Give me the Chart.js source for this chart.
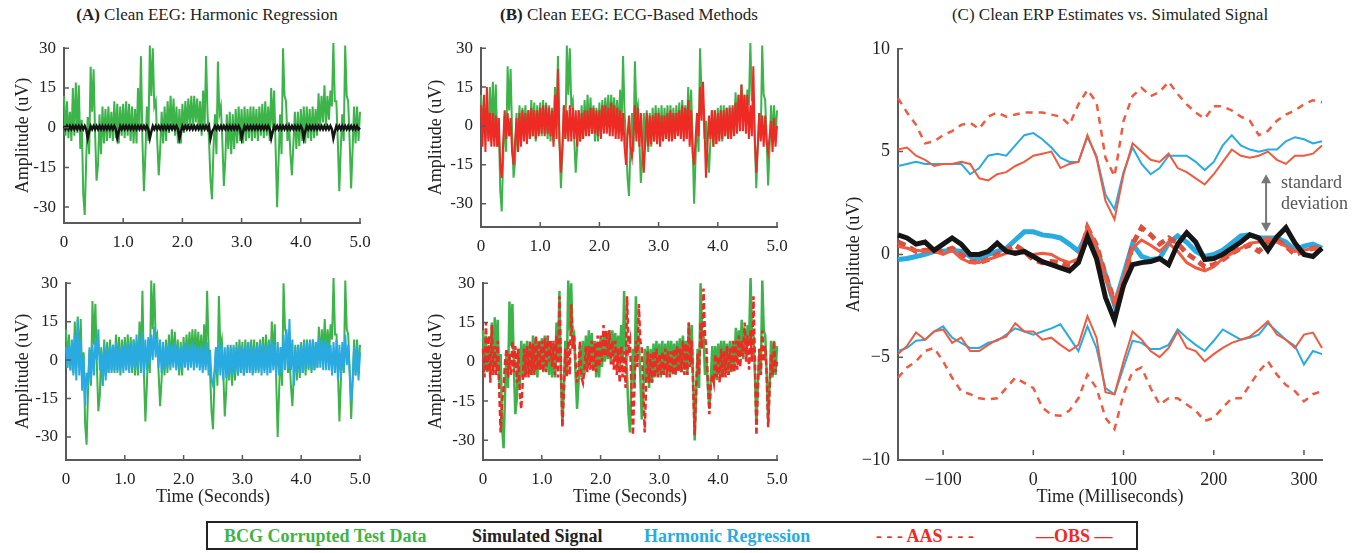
<!DOCTYPE html>
<html>
<head>
<meta charset="utf-8">
<script src="https://cdn.jsdelivr.net/npm/chart.js@4.4.1/dist/chart.umd.min.js"></script>
<style>
  body { margin: 0; background: #fff; width: 1367px; height: 553px; overflow: hidden; position: relative; font-family: "Liberation Serif", "Times New Roman", Times, "DejaVu Serif", serif; }
  .panel { position: absolute; }
  .title { position: absolute; font-size: 17px; color: #222; white-space: nowrap; transform: translateX(-50%); }
  .note { position: absolute; font-size: 18px; color: #555; line-height: 21px; }
  #legend { position: absolute; left: 206px; top: 521px; width: 932px; height: 29px; border: 2px solid #222; box-sizing: border-box; }
  #legend span { position: absolute; top: 3px; font-weight: bold; font-size: 18px; white-space: nowrap; }
</style>
</head>
<body>
<div class="title" style="left:207px; top:5px;"><b>(A)</b> Clean EEG: Harmonic Regression</div>
<div class="title" style="left:629px; top:5px;"><b>(B)</b> Clean EEG: ECG-Based Methods</div>
<div class="title" style="left:1110px; top:5px;">(C) Clean ERP Estimates vs. Simulated Signal</div>

<div class="panel" style="left:0; top:30px; width:380px; height:230px;"><canvas id="aTop"></canvas></div>
<div class="panel" style="left:0; top:265px; width:380px; height:245px;"><canvas id="aBottom"></canvas></div>
<div class="panel" style="left:415px; top:30px; width:385px; height:230px;"><canvas id="bTop"></canvas></div>
<div class="panel" style="left:415px; top:265px; width:385px; height:245px;"><canvas id="bBottom"></canvas></div>
<div class="panel" style="left:840px; top:30px; width:527px; height:480px;"><canvas id="cChart"></canvas></div>

<div class="note" style="left:1281px; top:172px;">standard<br>deviation</div>

<div id="legend">
  <span style="left:16px; color:#3cb44a;">BCG Corrupted Test Data</span>
  <span style="left:264px; color:#222;">Simulated Signal</span>
  <span style="left:436px; color:#29abe2;">Harmonic Regression</span>
  <span style="left:668px; color:#ee2a24;">- - - AAS - - -</span>
  <span style="left:828px; color:#ee2a24;">&mdash;OBS &mdash;</span>
</div>

<script>
// EEG traces, one sample every 0.025 s from 0 to 5 s
const eegStep = 0.025;
const bcgCorrupted = [
  12, -3, 10, -4, 6, -5, 15, -3,
  17, -2, 16, -8, 3, -25, -33, -12,
  4, -10, 23, 6, 22, -2, -20, -14,
  5, -10, 8, -6, 7, -5, 8, -4,
  6, -5, 10, -4, 9, -6, 8, -3,
  9, -4, 10, -3, 9, -5, 8, -6,
  7, -6, 15, 0, 27, -5, -24, -10,
  8, -5, 31, 12, 30, 8, 10, -5,
  -18, -8, 6, -6, 8, -5, 10, -2,
  12, -1, 11, -3, 8, -6, 7, -6,
  9, -2, 10, 0, 11, 1, 12, 0,
  12, 2, 11, 0, 10, -3, 14, 0,
  27, 5, -5, -20, -27, -8, 5, -10,
  25, 5, 8, -5, -22, -12, 5, -8,
  6, -10, 5, -8, 7, -6, 8, -5,
  7, -6, 8, -5, 7, -4, 8, -5,
  8, -4, 7, -5, 8, -3, 9, -4,
  10, -3, 8, -5, 15, 0, 14, -8,
  -30, -12, 5, -10, 30, 12, 10, -5,
  2, -10, -18, -6, 6, -8, 6, -7,
  7, -5, 8, -6, 8, -4, 7, -5,
  8, -4, 7, -3, 13, 0, 12, 2,
  16, 1, 12, 3, 14, 8, 32, 10,
  10, -5, -24, -8, 5, -5, 31, 12,
  10, -5, -23, -8, 8, -6, 8, -5,
  6];
const simulatedEeg = [
  0.6, -0.6, 0.6, -0.6, 0.6, -0.6, 0.6, -0.6,
  0.6, -0.6, 0.6, -0.6, 0.6, -0.6, 0.6, -0.6,
  -4, -1.5, 0.6, -0.6, 0.6, -0.6, 0.6, -0.6,
  0.6, -0.6, 0.6, -0.6, 0.6, -0.6, 0.6, -0.6,
  0.6, -0.6, 0.6, -0.6, -4, -1.5, 0.6, -0.6,
  0.6, -0.6, 0.6, -0.6, 0.6, -0.6, 0.6, -0.6,
  0.6, -0.6, 0.6, -0.6, 0.6, -0.6, 0.6, -0.6,
  0.6, -0.6, -4, -1.5, 0.6, -0.6, 0.6, -0.6,
  0.6, -0.6, 0.6, -0.6, 0.6, -0.6, 0.6, -0.6,
  0.6, -0.6, 0.6, -0.6, 0.6, -0.6, -4, -1.5,
  0.6, -0.6, 0.6, -0.6, 0.6, -0.6, 0.6, -0.6,
  0.6, -0.6, 0.6, -0.6, 0.6, -0.6, 0.6, -0.6,
  0.6, -0.6, 0.6, -4, -1.5, -0.6, 0.6, -0.6,
  0.6, -0.6, 0.6, -0.6, 0.6, -0.6, 0.6, -0.6,
  0.6, -0.6, 0.6, -0.6, 0.6, -0.6, 0.6, -0.6,
  -4, -1.5, 0.6, -0.6, 0.6, -0.6, 0.6, -0.6,
  0.6, -0.6, 0.6, -0.6, 0.6, -0.6, 0.6, -0.6,
  0.6, -0.6, 0.6, -0.6, -4, -1.5, 0.6, -0.6,
  0.6, -0.6, 0.6, -0.6, 0.6, -0.6, 0.6, -0.6,
  0.6, -0.6, 0.6, -0.6, 0.6, -0.6, 0.6, -0.6,
  0.6, -0.6, -4, -1.5, 0.6, -0.6, 0.6, -0.6,
  0.6, -0.6, 0.6, -0.6, 0.6, -0.6, 0.6, -0.6,
  0.6, -0.6, 0.6, -0.6, 0.6, -0.6, -4, -1.5,
  0.6, -0.6, 0.6, -0.6, 0.6, -0.6, 0.6, -0.6,
  0.6, -0.6, 0.6, -0.6, 0.6, -0.6, 0.6, -0.6,
  0];
const harmonicRegression = [
  5, -3, 6, -4, 8, -6, 10, -8,
  16, -6, 8, -12, 2, -18, -5, -10,
  5, -8, 6, -6, 8, 0, 12, -4,
  3, -10, 6, -8, 5, -5, 6, -5,
  6, -4, 7, -5, 5, -4, 6, -5,
  6, -4, 7, -5, 6, -3, 8, -4,
  10, -3, 9, -5, 11, -6, 8, -4,
  9, -2, 10, 0, 13, 1, 9, -3,
  8, -5, 7, -4, 6, -3, 7, -4,
  6, -3, 7, -4, 6, -4, 5, -3,
  6, -3, 7, -4, 6, -3, 7, -4,
  6, -3, 5, -4, 6, -5, 5, -4,
  7, -6, 4, -8, -10, -4, 5, -6,
  7, -6, 6, -8, 5, -7, 6, -6,
  5, -6, 6, -5, 5, -6, 6, -5,
  5, -6, 6, -5, 7, -5, 6, -6,
  5, -5, 6, -4, 7, -6, 6, -5,
  6, -6, 7, -5, 8, -4, 6, -6,
  7, -6, 5, -5, 10, -4, 12, -3,
  16, -4, 8, -10, 5, -5, 6, -5,
  6, -5, 7, -4, 7, -3, 8, -4,
  8, -4, 7, -3, 9, -3, 8, -4,
  8, -4, 7, -4, 6, -6, 7, -5,
  8, -8, 6, -7, 7, -4, 10, -2,
  6, -5, -16, -8, 5, -6, 6, -8,
  3];
const obsEeg = [
  8, -8, 12, -10, 15, -6, 5, -8,
  5, -8, 4, -8, 3, -15, -20, -6,
  6, -5, 5, -4, 3, -10, -15, -6,
  3, -10, 5, -8, 6, -6, 5, -7,
  6, -5, 7, -4, 6, -5, 6, -4,
  7, -3, 8, -4, 8, -3, 7, -4,
  6, -8, 12, -5, 22, -6, -18, -8,
  8, -5, 6, -6, 8, -6, 7, -5,
  6, -8, 6, -6, 5, -5, 6, -4,
  6, -4, 7, -3, 7, -3, 6, -4,
  6, -5, 8, -3, 8, -3, 7, -4,
  9, -4, 8, -5, 7, -5, 6, -6,
  5, -8, -15, -4, 4, -8, -12, -4,
  8, -6, 7, -8, 5, -8, -18, -6,
  5, -8, 4, -7, 4, -6, 5, -7,
  5, -8, 4, -6, 4, -5, 5, -6,
  6, -6, 5, -5, 5, -4, 6, -5,
  8, -6, 7, -5, 10, -8, 6, -10,
  -15, -5, 5, -4, 15, 2, 17, 0,
  -20, -8, 4, -5, 6, -8, 6, -7,
  5, -6, 6, -5, 6, -4, 7, -5,
  7, -5, 8, -4, 9, -3, 12, -2,
  16, -2, 12, -3, 12, -5, 8, -4,
  23, -5, -18, -8, 5, -6, 4, -8,
  4, -6, -10, -4, 2, -10, 3, -8,
  0];
const aasEeg = [
  5, -6, 15, -4, 10, -8, 14, -5,
  6, -5, 8, -10, -27, -15, -10, 0,
  5, -6, 3, -5, 8, -4, 6, -8,
  5, -12, -18, -8, 5, -6, 6, -6,
  8, -5, 7, -5, 10, -3, 8, -3,
  8, -4, 9, -4, 10, 0, 8, -2,
  8, -5, 10, -6, 25, 0, -25, -12,
  5, -6, 8, -5, 22, 5, 10, 0,
  -8, -2, 8, -6, -8, -3, 6, -4,
  6, -3, 8, -4, 7, -4, 10, -2,
  10, 0, 14, 2, 12, 2, 12, -1,
  8, -3, 8, -5, 5, -8, 6, -6,
  4, -10, 25, 5, 8, -10, -28, -10,
  8, -2, 22, 8, 5, -10, -27, -8,
  4, -8, 3, -8, 4, -6, 5, -6,
  3, -5, 4, -5, 5, -6, 4, -6,
  4, -5, 5, -5, 6, -4, 5, -4,
  8, -5, 7, -5, 15, -2, 8, -10,
  -28, -10, 3, -5, 15, 5, 28, 10,
  5, -8, -20, -8, -5, -8, 3, -6,
  2, -8, 5, -6, 4, -6, 6, -5,
  5, -4, 8, -4, 8, -3, 10, -2,
  8, 2, 15, 0, 10, -3, 12, 0,
  25, 0, -28, -10, 5, -5, 12, 0,
  6, -5, -25, -10, 3, -5, 8, -4,
  0];
const eegTicksY = [-30, -15, 0, 15, 30];
const eegTicksX = [0, 1, 2, 3, 4, 5];

// ERP estimates, one sample every 10 ms from -150 to 320 ms
const erpStart = -150;
const erpStep = 10;
const erpSimulated = [0.95, 0.8, 0.5, 0.6, 0.2, 0.5, 0.8, 0.5, 0, 0, 0.15, 0.55, 0.15, 0.05, 0.15,
  -0.1, -0.35, -0.5, -0.65, -0.8, -0.4, 0.85, -0.2, -2.1, -3.2, -1.5, -0.5, -0.4, -0.35, -0.2, -0.5,
  0.5, 1.05, 0.6, -0.25, -0.2, 0, 0.3, 0.6, 0.95, 0.8, 0.2, 0.85, 1.3, 0.55, 0, -0.1, 0.3];
const erpHarmonic = [-0.25, -0.2, -0.1, 0, 0.15, 0.15, 0.2, 0.15, -0.1, -0.2, 0, 0.15, 0.3, 0.7, 1.1,
  1.1, 0.95, 0.9, 0.8, 0.5, 0.15, 1.05, 0.3, -1.0, -2.45, -1.0, 0.5, -0.1, -0.25, -0.2, 0.55,
  0.9, 0.6, 0.15, -0.1, 0, 0.2, 0.55, 0.9, 0.95, 0.8, 0.8, 0.8, 0.6, 0.2, 0.4, 0.5, 0.3];
const erpAas = [0.6, 0.4, 0.15, 0.2, 0.15, 0.15, 0.3, 0, -0.35, -0.4, -0.25, 0, 0.2, 0.45, 0.15,
  -0.25, -0.4, -0.35, -0.4, -0.6, -0.35, 1.3, 0.45, -1.0, -2.3, -1.5, 0.5, 1.3, 0.95, 0.5, 0.8,
  0.55, 0.05, -0.25, -0.6, -0.5, -0.25, 0.05, 0.3, 0.45, 0.15, 0.6, 0.7, 0.4, 0, 0.15, 0.3, 0.3];
const erpObs = [0.4, 0.3, 0.2, 0.15, 0.15, 0, 0.2, -0.2, -0.4, -0.4, -0.25, -0.1, 0.05, 0.15, 0.05,
  0, 0.05, 0, -0.25, -0.4, -0.2, 1.35, 0.4, -1.15, -2.3, -1.15, 0.3, 0.7, 0.45, 0.15, 0.55,
  0.15, -0.4, -0.65, -0.8, -0.6, -0.2, 0.05, 0.3, 0.55, 0.6, 0.8, 0.6, 0.4, 0.15, 0.2, 0.3, 0.3];
const erpHarmonicUpper = [4.3, 4.4, 4.5, 4.4, 4.4, 4.4, 4.4, 4.4, 3.9, 4.2, 4.8, 4.9, 4.8, 5.3, 5.8,
  5.9, 5.6, 5.2, 4.7, 4.5, 4.5, 5.7, 4.8, 2.9, 2.2, 4.0, 5.2, 4.4, 3.9, 4.2, 4.8,
  4.8, 4.8, 4.5, 4.1, 4.5, 5.3, 5.8, 5.3, 5.1, 5.0, 5.1, 5.1, 5.5, 5.7, 5.6, 5.4, 5.5];
const erpObsUpper = [5.1, 5.2, 4.8, 4.6, 4.3, 4.4, 4.4, 4.5, 4.4, 3.7, 3.6, 3.9, 4.0, 4.3, 4.5,
  4.8, 4.9, 5.0, 4.2, 4.4, 4.5, 5.8, 4.7, 2.6, 1.7, 3.9, 5.4, 5.0, 4.6, 4.5, 4.9,
  4.2, 4.0, 3.7, 3.4, 3.9, 4.5, 5.1, 4.8, 4.7, 4.8, 5.0, 4.6, 4.4, 4.8, 4.8, 4.9, 5.3];
const erpAasUpper = [7.6, 6.9, 6.3, 5.4, 5.5, 5.8, 6.0, 6.3, 6.4, 6.1, 6.7, 6.9, 6.7, 6.8, 6.9,
  6.9, 6.9, 6.8, 6.7, 6.3, 7.3, 8.0, 7.4, 4.7, 3.8, 6.5, 7.7, 8.1, 7.7, 7.9, 8.4,
  7.8, 7.3, 6.9, 6.6, 7.2, 7.2, 7.0, 6.7, 6.5, 5.8, 6.0, 6.5, 6.8, 7.0, 7.3, 7.5, 7.4];
const erpHarmonicLower = [-4.7, -4.55, -4.2, -4.15, -3.75, -3.5, -4.05, -4.3, -4.55, -4.55, -4.3, -4.2, -3.9, -3.6, -3.75,
  -3.9, -3.75, -3.6, -3.4, -4.05, -4.7, -3.5, -4.55, -6.5, -6.8, -5.5, -4.2, -4.3, -4.6, -4.6, -4.4,
  -3.65, -4.05, -4.4, -4.7, -4.2, -3.65, -3.9, -4.15, -4.05, -3.9, -3.35, -3.75, -4.15, -4.45, -5.35, -4.7, -4.85];
const erpObsLower = [-4.85, -4.45, -3.8, -4.15, -3.75, -3.65, -4.3, -4.05, -4.7, -4.7, -4.4, -4.15, -4.0, -3.35, -3.75,
  -3.75, -4.15, -4.05, -4.4, -4.7, -4.4, -3.0, -4.05, -6.7, -6.8, -5.2, -3.75, -4.15, -4.7, -5.0, -4.55,
  -3.75, -4.55, -4.7, -5.2, -4.85, -4.55, -4.3, -4.15, -4.0, -3.65, -3.25, -3.9, -4.15, -4.55, -3.9, -3.8, -4.55];
const erpAasLower = [-6.0, -5.5, -5.2, -4.7, -4.55, -5.2, -6.0, -6.65, -6.8, -7.0, -7.05, -7.0, -6.5, -6.0, -6.25,
  -6.5, -7.45, -7.8, -7.85, -7.6, -7.0, -5.85, -6.5, -7.95, -8.5, -6.8, -5.7, -5.5, -6.5, -7.3, -7.0,
  -7.0, -7.3, -7.6, -8.1, -7.95, -7.45, -7.0, -7.0, -6.35, -5.7, -5.2, -5.85, -6.35, -6.65, -7.15, -6.8, -6.65];
const erpTicksY = [-10, -5, 0, 5, 10];
const erpTicksX = [-100, 0, 100, 200, 300];

const GREEN = "#3cb44a";
const BLUE = "#29abe2";
const RED = "#ee2a24";
const ORANGE = "#f05a3f";
const AXIS = "#5a5a5a";
const SERIF = '"Liberation Serif", "Times New Roman", Times, "DejaVu Serif", serif';

function toPoints(values, start, step) {
    return values.map((v, i) => ({ x: start + i * step, y: v }));
}

function line(values, start, step, color, width, dash) {
    return {
        data: toPoints(values, start, step),
        borderColor: color,
        borderWidth: width,
        borderDash: dash || [],
        pointRadius: 0,
        tension: 0,
        clip: false
    };
}

// short tick marks drawn on the inside of the axes
const innerTicks = {
    id: "innerTicks",
    afterDraw(chart, args, opts) {
        const ctx = chart.ctx;
        const x = chart.scales.x;
        const y = chart.scales.y;
        ctx.save();
        ctx.strokeStyle = AXIS;
        ctx.lineWidth = 1.5;
        ctx.beginPath();
        x.ticks.forEach(t => {
            const px = x.getPixelForValue(t.value);
            ctx.moveTo(px, x.top - opts.xGap);
            ctx.lineTo(px, x.top - opts.xGap - opts.len);
        });
        y.ticks.forEach(t => {
            const py = y.getPixelForValue(t.value);
            ctx.moveTo(y.right, py);
            ctx.lineTo(y.right + opts.len, py);
        });
        ctx.stroke();
        ctx.restore();
    }
};

// double headed arrow marking the standard deviation band
const sdArrow = {
    id: "sdArrow",
    afterDraw(chart, args, opts) {
        if (!opts.at) return;
        const ctx = chart.ctx;
        const px = chart.scales.x.getPixelForValue(opts.at);
        const y1 = chart.scales.y.getPixelForValue(opts.from);
        const y2 = chart.scales.y.getPixelForValue(opts.to);
        ctx.save();
        ctx.strokeStyle = "#777";
        ctx.fillStyle = "#777";
        ctx.lineWidth = 2;
        ctx.beginPath();
        ctx.moveTo(px, y1 + 6);
        ctx.lineTo(px, y2 - 6);
        ctx.stroke();
        [[y1, 1], [y2, -1]].forEach(([yy, d]) => {
            ctx.beginPath();
            ctx.moveTo(px, yy);
            ctx.lineTo(px - 5, yy + d * 9);
            ctx.lineTo(px + 5, yy + d * 9);
            ctx.closePath();
            ctx.fill();
        });
        ctx.restore();
    }
};

function makeChart(id, datasets, cfg) {
    const tickFont = { family: SERIF, size: cfg.tickSize || 17 };
    const titleFont = { family: SERIF, size: 18 };
    new Chart(document.getElementById(id), {
        type: "line",
        data: { datasets: datasets },
        plugins: [innerTicks, sdArrow],
        options: {
            responsive: true,
            maintainAspectRatio: false,
            animation: false,
            layout: { padding: { top: cfg.padTop, right: cfg.padRight, left: 0, bottom: 0 } },
            plugins: {
                legend: { display: false },
                tooltip: { enabled: false },
                innerTicks: { len: 5, xGap: cfg.xGap || 0 },
                sdArrow: cfg.arrow || {}
            },
            scales: {
                x: {
                    type: "linear",
                    min: cfg.xMin,
                    max: cfg.xMax,
                    afterFit: s => { s.height = cfg.xHeight; },
                    afterBuildTicks: s => { s.ticks = cfg.xTicks.map(v => ({ value: v })); },
                    grid: { display: false, drawTicks: false },
                    border: { display: true, color: AXIS, width: 2 },
                    ticks: { font: tickFont, color: "#222", padding: 9, maxRotation: 0, callback: cfg.xLabel },
                    title: { display: !!cfg.xTitle, text: cfg.xTitle, font: titleFont, color: "#222", padding: { top: 0, bottom: 2 } }
                },
                y: {
                    min: cfg.yMin,
                    max: cfg.yMax,
                    afterFit: s => { s.width = cfg.yWidth; },
                    afterBuildTicks: s => { s.ticks = cfg.yTicks.map(v => ({ value: v })); },
                    grid: { display: false, drawTicks: false },
                    border: { display: true, color: AXIS, width: 2 },
                    ticks: { font: tickFont, color: "#222", padding: 8, callback: cfg.yLabel },
                    title: { display: true, text: "Amplitude (uV)", font: titleFont, color: "#222", padding: { top: cfg.yTitlePad, bottom: 0 } }
                }
            }
        }
    });
}

const secLabel = v => (v === 0 ? "0" : v.toFixed(1));
const plainLabel = v => String(v);
const minusLabel = v => (v < 0 ? "\u2212" + Math.abs(v) : String(v));

const eegBase = { xMin: 0, xMax: 5, yMax: 30, xTicks: eegTicksX, yTicks: eegTicksY, xLabel: secLabel, yLabel: plainLabel };

makeChart("aTop", [
    line(simulatedEeg, 0, eegStep, "#151515", 2.5),
    line(bcgCorrupted, 0, eegStep, GREEN, 2)
], Object.assign({}, eegBase, { yMin: -36, yWidth: 64, padTop: 17, padRight: 20, xHeight: 37, yTitlePad: 12 }));

makeChart("aBottom", [
    line(harmonicRegression, 0, eegStep, BLUE, 2),
    line(bcgCorrupted, 0, eegStep, GREEN, 2)
], Object.assign({}, eegBase, { yMin: -39, yWidth: 66, padTop: 15, padRight: 20, xHeight: 50, yTitlePad: 12, xTitle: "Time (Seconds)" }));

makeChart("bTop", [
    line(obsEeg, 0, eegStep, RED, 2),
    line(bcgCorrupted, 0, eegStep, GREEN, 2)
], Object.assign({}, eegBase, { yMin: -39, yWidth: 66, padTop: 16, padRight: 23, xHeight: 33, yTitlePad: 10 }));

makeChart("bBottom", [
    line(aasEeg, 0, eegStep, RED, 2.5, [6, 3]),
    line(bcgCorrupted, 0, eegStep, GREEN, 2.5)
], Object.assign({}, eegBase, { yMin: -37.5, yWidth: 68, padTop: 17, padRight: 23, xHeight: 50, yTitlePad: 10, xTitle: "Time (Seconds)" }));

makeChart("cChart", [
    line(erpSimulated, erpStart, erpStep, "#151515", 5),
    line(erpObs, erpStart, erpStep, ORANGE, 3),
    line(erpAas, erpStart, erpStep, "#d9503c", 5, [8, 5]),
    line(erpHarmonic, erpStart, erpStep, BLUE, 5),
    line(erpObsUpper, erpStart, erpStep, ORANGE, 2),
    line(erpHarmonicUpper, erpStart, erpStep, BLUE, 2),
    line(erpAasUpper, erpStart, erpStep, ORANGE, 2.5, [7, 6]),
    line(erpObsLower, erpStart, erpStep, ORANGE, 2),
    line(erpHarmonicLower, erpStart, erpStep, BLUE, 2),
    line(erpAasLower, erpStart, erpStep, ORANGE, 2.5, [7, 6])
], {
    xMin: -150, xMax: 320, yMin: -10, yMax: 10,
    xTicks: erpTicksX, yTicks: erpTicksY, xLabel: minusLabel, yLabel: minusLabel,
    yWidth: 58, padTop: 17, padRight: 45, xHeight: 50, yTitlePad: 3, xGap: 5,
    tickSize: 18, xTitle: "Time (Milliseconds)",
    arrow: { at: 258, from: 3.9, to: 1.1 }
});
</script>
</body>
</html>
